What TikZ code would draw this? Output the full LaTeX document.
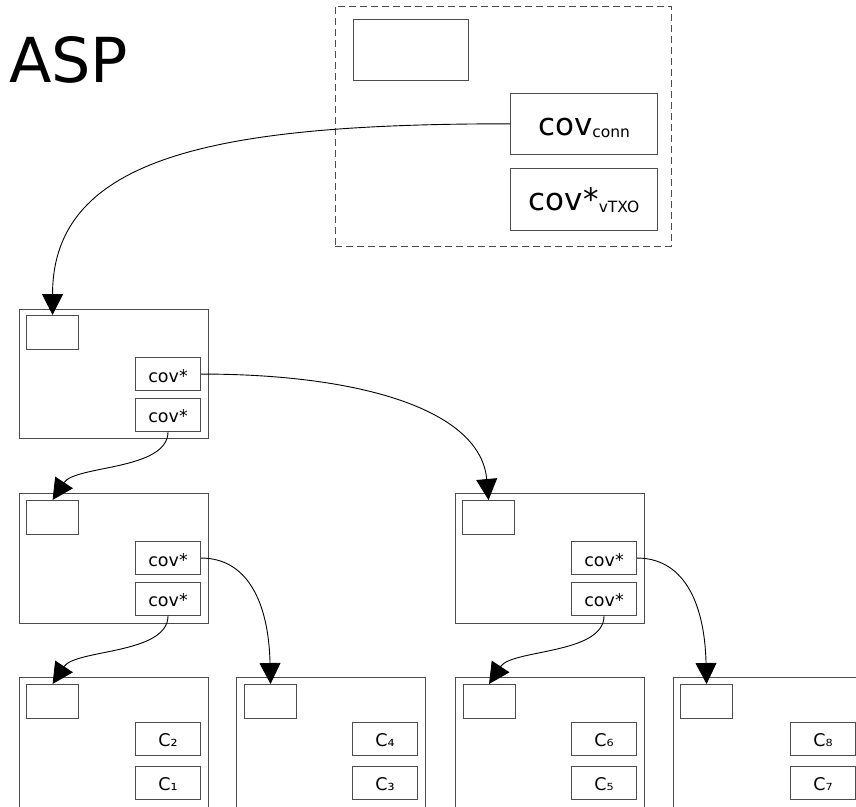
\documentclass[tikz,border=0pt]{standalone}
\usepackage{fontspec}
\setmainfont{DejaVu Sans}
\usetikzlibrary{arrows.meta}
\tikzset{
  frame/.style={draw=black!70, line width=1.1pt, anchor=north west, inner sep=0pt},
  outerbox/.style={frame, minimum width=189pt, minimum height=130pt},
  leafbox/.style={frame, minimum width=189pt, minimum height=150pt},
  slot/.style={frame, minimum width=52pt, minimum height=34pt},
  covbox/.style={frame, minimum width=65pt, minimum height=33pt,
    font=\fontsize{17.5}{17.5}\selectfont, text height=16pt, text depth=0pt},
  leafc/.style={covbox, text height=15pt},
  bigbox/.style={frame, minimum width=147pt, minimum height=61.5pt, text depth=0pt},
  link/.style={draw=black, line width=0.9pt, -{Triangle[length=21pt,width=21pt]}},
}
\begin{document}
\begin{tikzpicture}[x=1pt,y=-1pt]
\clip (0,0) rectangle (856,806);
\fill[white] (0,0) rectangle (856,806);

% title
\node[anchor=base west, inner sep=0pt, font=\fontsize{62}{62}\selectfont] (title) at (9,82) {ASP};

% top dashed container
\node[frame, dashed, dash pattern=on 7pt off 4pt, line width=0.9pt, minimum width=336pt, minimum height=240pt] (asp) at (335,6) {};
\node[frame, minimum width=115pt, minimum height=61pt] (aspslot) at (353,19) {};
\node[bigbox, text height=23pt] (conn) at (510,92.5) {\fontsize{31}{31}\selectfont cov\raisebox{-2pt}{\fontsize{15.5}{15.5}\selectfont conn}};
\node[bigbox, text height=22.6pt] (vtxo) at (510,168) {\fontsize{31}{31}\selectfont cov*\raisebox{-2pt}{\fontsize{15.5}{15.5}\selectfont vTXO}};

% level 1
\node[outerbox, minimum height=129pt] (n1) at (19,309) {};
\node[slot] (s1) at (26,315) {};
\node[covbox] (a1) at (135,357) {cov*};
\node[covbox] (b1) at (135,397.5) {cov*};

% level 2
\node[outerbox] (n2a) at (19,493) {};
\node[slot] (s2a) at (26,500) {};
\node[covbox] (a2a) at (135,541) {cov*};
\node[covbox] (b2a) at (135,581.5) {cov*};

\node[outerbox] (n2b) at (455,493) {};
\node[slot] (s2b) at (462,500) {};
\node[covbox] (a2b) at (571,541) {cov*};
\node[covbox] (b2b) at (571,581.5) {cov*};

% level 3
\node[leafbox] (n3a) at (19,677) {};
\node[slot] (s3a) at (26,684) {};
\node[leafc] (c2) at (135,722) {C₂};
\node[leafc] (c1) at (135,766) {C₁};

\node[leafbox] (n3b) at (236,677) {};
\node[slot] (s3b) at (244,684) {};
\node[leafc] (c4) at (352,722) {C₄};
\node[leafc] (c3) at (352,766) {C₃};

\node[leafbox] (n3c) at (455,677) {};
\node[slot] (s3c) at (462.5,684) {};
\node[leafc] (c6) at (571,722) {C₆};
\node[leafc] (c5) at (571,766) {C₅};

\node[leafbox] (n3d) at (673,677) {};
\node[slot] (s3d) at (680,684) {};
\node[leafc] (c8) at (790,722) {C₈};
\node[leafc] (c7) at (790,766) {C₇};

% connectors
\draw[link] (conn.west) .. controls +(-290,0) and +(0,-160) .. (s1.north);
\draw[link] (a1.east) .. controls +(160,0) and +(-8,-90) .. (s2b.north);
\draw[link] (b1.south) .. controls +(0,39) and +(23,-35) .. (s2a.north);
\draw[link] (a2a.east) .. controls +(45,0) and +(-2,-84) .. (s3b.north);
\draw[link] (b2a.south) .. controls +(0,39) and +(23,-35) .. (s3a.north);
\draw[link] (a2b.east) .. controls +(45,0) and +(-2,-84) .. (s3d.north);
\draw[link] (b2b.south) .. controls +(0,39) and +(23,-35) .. (s3c.north);
\end{tikzpicture}
\end{document}
